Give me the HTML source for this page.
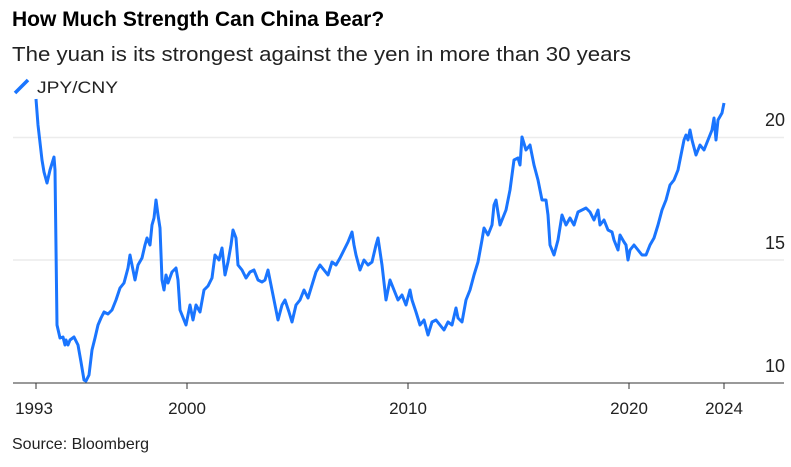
<!DOCTYPE html>
<html><head><meta charset="utf-8"><style>
body{margin:0;background:#fff;width:791px;height:462px;overflow:hidden;font-family:"Liberation Sans",Arial,sans-serif;}
</style></head><body>
<svg width="791" height="462" xmlns="http://www.w3.org/2000/svg" font-family="Liberation Sans, Arial, sans-serif">
<text x="12" y="26" font-size="21" font-weight="bold" fill="#000">How Much Strength Can China Bear?</text>
<text x="12" y="61" font-size="20" fill="#222" textLength="619" lengthAdjust="spacingAndGlyphs">The yuan is its strongest against the yen in more than 30 years</text>
<line x1="15" y1="93" x2="28" y2="80" stroke="#1a75ff" stroke-width="3.5"/>
<text x="37" y="93" font-size="17" fill="#222" textLength="81" lengthAdjust="spacingAndGlyphs">JPY/CNY</text>
<line x1="13" y1="137.5" x2="784" y2="137.5" stroke="#ececec" stroke-width="1.5"/>
<line x1="13" y1="260" x2="784" y2="260" stroke="#ececec" stroke-width="1.5"/>
<line x1="13" y1="383" x2="784" y2="383" stroke="#333" stroke-width="1"/>
<g stroke="#333" stroke-width="1"><line x1="36" y1="383" x2="36" y2="389"/><line x1="187" y1="383" x2="187" y2="389"/><line x1="408" y1="383" x2="408" y2="389"/><line x1="629" y1="383" x2="629" y2="389"/><line x1="724" y1="383" x2="724" y2="389"/></g>
<g font-size="17" fill="#222" text-anchor="middle"><text x="34" y="414">1993</text><text x="187" y="414">2000</text><text x="408" y="414">2010</text><text x="629" y="414">2020</text><text x="724" y="414">2024</text></g>
<g font-size="18" fill="#222" text-anchor="end"><text x="785" y="126">20</text><text x="785" y="249">15</text><text x="785" y="372">10</text></g>
<text x="12" y="449" font-size="16" fill="#222">Source: Bloomberg</text>
<polyline fill="none" stroke="#1a75ff" stroke-width="3" stroke-linejoin="round" points="36,99 38,125 42,160 44,172 47,183 50,170 54,157 55,170 57,325 60,338 63,337 65,345 66,340 68,345 70,340 74,337 78,345 81,362 84,380 86,381 89,375 92,350 95,338 98,325 101,318 104,312 108,314 112,310 116,300 120,288 124,283 128,268 130,255 133,270 135,280 138,265 142,258 145,245 147,238 150,245 152,225 154,218 156,200 158,215 160,228 162,280 164,290 166,275 168,283 172,272 176,268 178,280 180,310 184,320 186,325 190,305 193,320 196,305 200,312 204,290 208,286 212,278 215,255 219,260 222,248 225,275 228,262 231,245 233,230 236,238 238,265 242,270 246,278 250,272 254,270 258,280 262,282 265,280 268,270 270,280 274,300 278,320 282,305 285,300 289,312 292,322 296,305 300,300 304,290 308,298 312,285 316,272 320,265 324,270 328,275 332,262 336,265 340,258 344,250 348,242 352,232 354,245 356,255 360,270 364,260 368,265 372,262 376,245 378,238 382,265 386,300 390,280 394,290 398,300 402,295 406,305 410,290 412,300 416,312 420,325 424,320 428,335 432,322 436,320 440,325 444,330 448,322 452,325 456,308 458,318 462,322 466,300 470,290 474,275 478,262 482,240 484,228 488,235 492,225 494,205 496,200 500,225 502,220 506,210 510,190 514,160 518,158 520,165 522,137 526,150 530,145 534,165 538,180 542,200 546,200 548,215 550,245 554,255 558,240 562,215 566,225 570,218 574,225 578,212 582,210 586,208 590,212 594,220 598,210 600,225 604,220 608,230 612,232 614,240 618,250 620,235 624,242 626,245 628,260 630,250 634,245 638,250 642,255 646,255 650,245 654,238 658,225 662,210 666,200 670,185 674,180 678,170 680,160 684,140 686,135 688,140 690,130 692,140 696,155 700,145 704,150 706,145 708,140 712,130 714,118 716,140 718,120 722,113 724,103"/>
</svg>
</body></html>
